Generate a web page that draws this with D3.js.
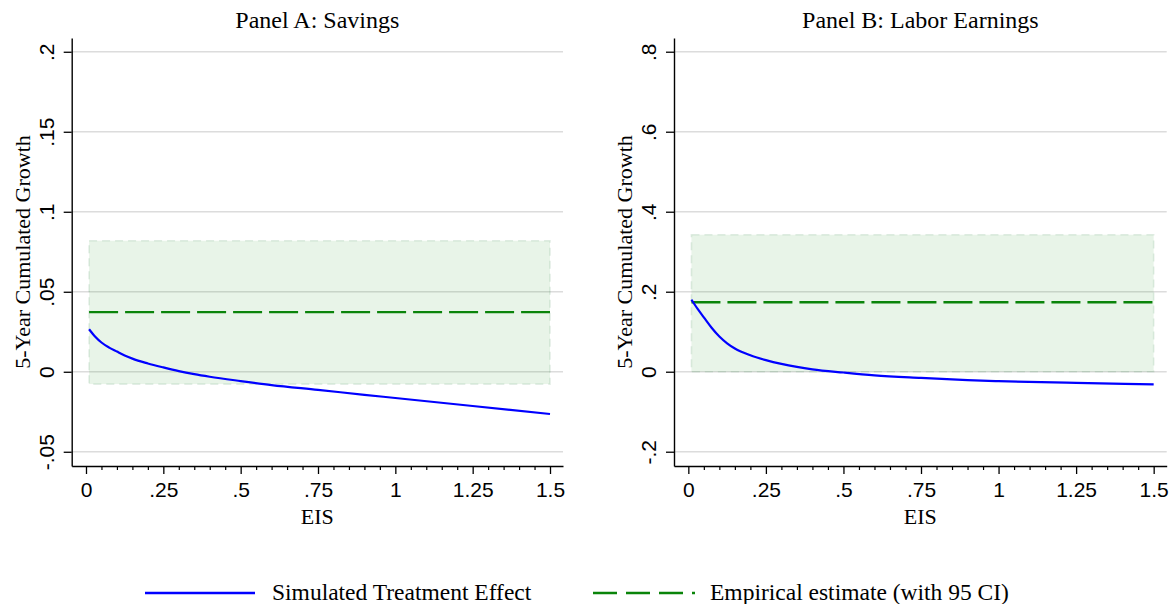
<!DOCTYPE html>
<html><head><meta charset="utf-8">
<script src="https://cdn.jsdelivr.net/npm/d3@7"></script>
<style>body{margin:0;background:#fff} svg{display:block}</style>
</head><body>
<svg id="chart" width="1172" height="604"></svg>
<script>
// ---------- data ----------
const eis = [0.01, 0.03, 0.05, 0.075, 0.1, 0.125, 0.15, 0.2, 0.25, 0.3, 0.35, 0.4, 0.5, 0.6, 0.75, 0.9, 1.0, 1.25, 1.5];
const savingsSim = [0.0266, 0.0219, 0.0183, 0.0151, 0.0126, 0.0102, 0.0082, 0.0052, 0.0027, 0.0004, -0.0015, -0.0031, -0.0058, -0.0083, -0.0113, -0.0144, -0.0164, -0.0214, -0.0264];
const earningsSim = [0.180, 0.157, 0.136, 0.110, 0.088, 0.071, 0.058, 0.041, 0.029, 0.0195, 0.012, 0.006, -0.002, -0.009, -0.0155, -0.021, -0.0235, -0.028, -0.0315];
// empirical estimate: [point, lower 95, upper 95]
const savingsEmpirical = [0.0373, -0.0077, 0.0819];
const earningsEmpirical = [0.1735, 0.0, 0.3425];
const empiricalEisRange = [0.01, 1.5];
const panelTitles = ["Panel A: Savings", "Panel B: Labor Earnings"];
const xTickValues = [0, 0.25, 0.5, 0.75, 1, 1.25, 1.5];
const xTickLabels = ["0", ".25", ".5", ".75", "1", "1.25", "1.5"];
const savingsYTicks = [-0.05, 0, 0.05, 0.1, 0.15, 0.2];
const savingsYLabels = ["-.05", "0", ".05", ".1", ".15", ".2"];
const earningsYTicks = [-0.2, 0, 0.2, 0.4, 0.6, 0.8];
const earningsYLabels = ["-.2", "0", ".2", ".4", ".6", ".8"];
const xTitle = "EIS";
const yTitle = "5-Year Cumulated Growth";
const legendLabels = ["Simulated Treatment Effect", "Empirical estimate (with 95 CI)"];

// ---------- layout ----------
const svg = d3.select("#chart");
const SERIF = "'Liberation Serif','Times New Roman',serif";
const SANS = "'Liberation Sans',Arial,Helvetica,sans-serif";
const plotTop = 38, plotBottom = 466;
const xDomain = [-0.0462, 1.542];

const panels = [
  {left: 71.7, right: 563, sim: savingsSim, emp: savingsEmpirical, yt: savingsYTicks, yl: savingsYLabels, yd: [-0.0589, 0.2086], title: panelTitles[0]},
  {left: 674, right: 1166.7, sim: earningsSim, emp: earningsEmpirical, yt: earningsYTicks, yl: earningsYLabels, yd: [-0.2357, 0.8343], title: panelTitles[1]}
];

panels.forEach(p => {
  const x = d3.scaleLinear().domain(xDomain).range([p.left, p.right]);
  const y = d3.scaleLinear().domain(p.yd).range([plotBottom, plotTop]);
  const g = svg.append("g");

  // gridlines
  g.append("g").selectAll("line").data(p.yt).join("line")
    .attr("x1", p.left).attr("x2", p.right)
    .attr("y1", d => y(d)).attr("y2", d => y(d))
    .attr("stroke", "#dcdcdc").attr("stroke-width", 1.6);

  // CI box
  g.append("rect")
    .attr("x", x(empiricalEisRange[0])).attr("width", x(empiricalEisRange[1]) - x(empiricalEisRange[0]))
    .attr("y", y(p.emp[2])).attr("height", y(p.emp[1]) - y(p.emp[2]))
    .attr("fill", "#008000").attr("fill-opacity", 0.09)
    .attr("stroke", "#2a7a3a").attr("stroke-opacity", 0.13)
    .attr("stroke-width", 1.6).attr("stroke-dasharray", "8,5");

  // empirical point estimate
  g.append("line")
    .attr("x1", x(empiricalEisRange[0])).attr("x2", x(empiricalEisRange[1]))
    .attr("y1", y(p.emp[0])).attr("y2", y(p.emp[0]))
    .attr("stroke", "#0a840a").attr("stroke-width", 2.4).attr("stroke-dasharray", "29,7");

  // simulated curve
  const line = d3.line().x((d, i) => x(eis[i])).y(d => y(d)).curve(d3.curveMonotoneX);
  g.append("path").datum(p.sim).attr("d", line)
    .attr("fill", "none").attr("stroke", "#0000ff").attr("stroke-width", 2.2);

  // y axis
  const ya = g.append("g").attr("transform", `translate(${p.left},0)`)
    .call(d3.axisLeft(y).tickValues(p.yt).tickFormat((d, i) => p.yl[i]).tickSize(8).tickSizeOuter(0));
  ya.select(".domain").attr("stroke", "#000").attr("stroke-width", 1.4);
  ya.selectAll(".tick line").attr("stroke", "#000").attr("stroke-width", 1.3);
  ya.selectAll(".tick text")
    .attr("transform", "rotate(-90)")
    .attr("x", 0).attr("y", -17.7).attr("dy", 0)
    .attr("text-anchor", "middle")
    .attr("font-family", SANS).attr("font-size", 21).attr("fill", "#000");

  // x axis major
  const xa = g.append("g").attr("transform", `translate(0,${plotBottom})`)
    .call(d3.axisBottom(x).tickValues(xTickValues).tickFormat((d, i) => xTickLabels[i]).tickSize(8).tickSizeOuter(0));
  xa.select(".domain").attr("stroke", "#000").attr("stroke-width", 1.4);
  xa.selectAll(".tick line").attr("stroke", "#000").attr("stroke-width", 1.3);
  xa.selectAll(".tick text").attr("y", 31).attr("dy", 0)
    .attr("font-family", SANS).attr("font-size", 21).attr("fill", "#000");

  // x axis minor
  const minor = d3.range(0, 31).map(i => i * 0.05).filter(v => Math.abs(v / 0.25 - Math.round(v / 0.25)) > 1e-6);
  const xm = g.append("g").attr("transform", `translate(0,${plotBottom})`)
    .call(d3.axisBottom(x).tickValues(minor).tickFormat("").tickSize(4).tickSizeOuter(0));
  xm.select(".domain").remove();
  xm.selectAll(".tick line").attr("stroke", "#000").attr("stroke-width", 1.2);

  // titles
  const cx = (p.left + p.right) / 2;
  g.append("text").attr("x", cx).attr("y", 28).attr("text-anchor", "middle")
    .attr("font-family", SERIF).attr("font-size", 24).text(p.title);
  g.append("text").attr("x", cx).attr("y", 524).attr("text-anchor", "middle")
    .attr("font-family", SERIF).attr("font-size", 22).text(xTitle);
  g.append("text").attr("transform", `translate(${p.left - 41.7},${(plotTop + plotBottom) / 2}) rotate(-90)`)
    .attr("text-anchor", "middle")
    .attr("font-family", SERIF).attr("font-size", 22).text(yTitle);
});

// legend
const lg = svg.append("g");
lg.append("line").attr("x1", 145).attr("x2", 255).attr("y1", 593).attr("y2", 593)
  .attr("stroke", "#0000ff").attr("stroke-width", 2.4);
lg.append("text").attr("x", 272).attr("y", 600).attr("font-family", SERIF).attr("font-size", 23.5).text(legendLabels[0]);
lg.append("line").attr("x1", 593).attr("x2", 697).attr("y1", 593).attr("y2", 593)
  .attr("stroke", "#0a840a").attr("stroke-width", 2.6).attr("stroke-dasharray", "24,9,24,9,24,9,3,40");
lg.append("text").attr("x", 710).attr("y", 600).attr("font-family", SERIF).attr("font-size", 23.5).text(legendLabels[1]);
</script>
</body></html>
